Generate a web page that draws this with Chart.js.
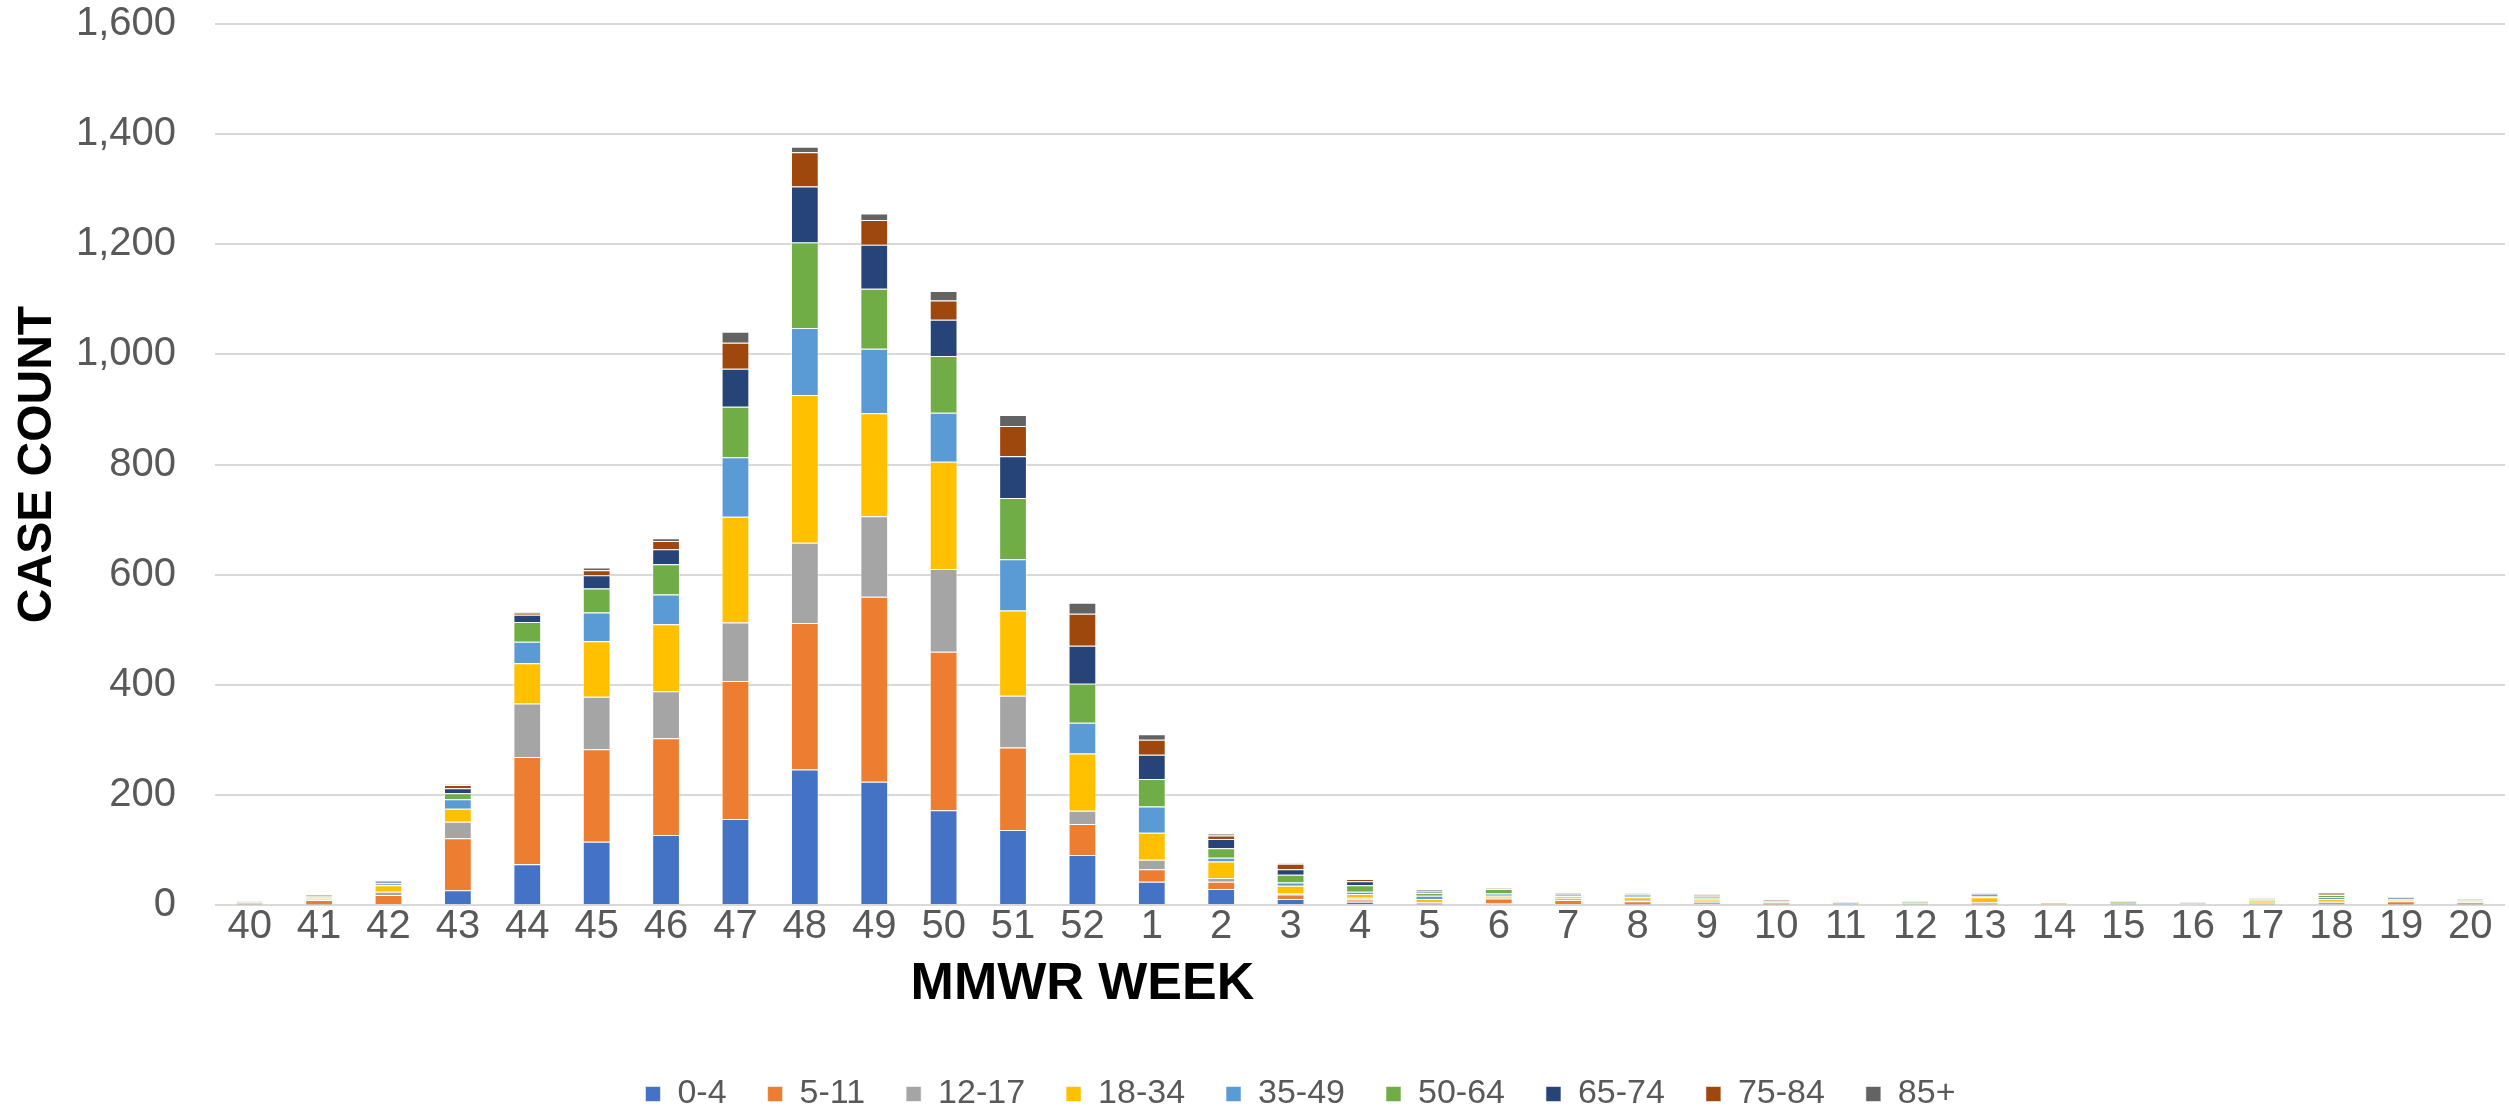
<!DOCTYPE html>
<html lang="en">
<head>
  <meta charset="UTF-8">
  <title>Case Count by MMWR Week</title>
  <script src="https://cdn.jsdelivr.net/npm/chart.js"></script>
  <style>
    html, body { margin: 0; padding: 0; background: #fff; }
    #wrap { width: 2509px; height: 1109px; position: relative; }
  </style>
</head>
<body>
  <div id="wrap"><canvas id="caseChart"></canvas></div>

  <script>
    // MMWR weeks (40-52, then 1-20)
    const weeks = ['40','41','42','43','44','45','46','47','48','49','50','51','52',
                   '1','2','3','4','5','6','7','8','9','10','11','12','13','14','15','16','17','18','19','20'];

    const ageGroups = ['0-4','5-11','12-17','18-34','35-49','50-64','65-74','75-84','85+'];
    const groupColors = ['#4472C4','#ED7D31','#A5A5A5','#FFC000','#5B9BD5','#70AD47','#264478','#9E480E','#636363'];

    // case counts per week, one array per age group
    const age0_4   = [1,1,2,27,74,115,127,156,246,224,172,136,91, 42,29,11,6,1,3,2,1,2,1,1,1,1,0,1,2,1,1,1,1];
    const age5_11  = [1,8,16,94,195,168,176,251,266,336,288,150,56, 23,13,8,4,3,9,7,6,2,3,0,1,3,1,1,0,1,1,6,4];
    const age12_17 = [1,1,6,30,97,95,85,106,146,146,150,94,24, 17,7,3,3,1,1,3,2,2,1,1,0,1,0,0,1,1,4,1,2];
    const age18_34 = [2,3,12,24,73,101,122,192,268,187,195,155,104, 49,30,13,7,6,4,4,5,4,1,2,1,9,1,0,1,3,5,2,1];
    const age35_49 = [1,1,3,17,39,52,54,108,122,117,89,93,56, 48,7,6,4,6,4,1,3,2,0,1,1,2,0,1,1,2,3,1,1];
    const age50_64 = [1,2,1,11,36,44,55,92,155,109,103,111,71, 50,17,14,12,5,8,2,2,3,1,0,2,1,1,3,1,2,4,0,1];
    const age65_74 = [0,1,2,9,13,24,27,69,102,80,66,76,69, 44,17,10,7,1,0,2,1,1,1,0,0,3,0,0,0,1,0,2,0];
    const age75_84 = [0,1,2,6,4,9,15,47,62,45,35,55,58, 27,6,10,4,2,1,2,0,2,2,0,0,1,0,0,0,1,2,0,0];
    const age85    = [0,0,0,1,1,5,5,20,10,12,17,20,20, 10,4,1,0,3,1,0,1,1,0,1,1,0,0,1,0,0,2,1,1];

    const seriesValues = [age0_4, age5_11, age12_17, age18_34, age35_49, age50_64, age65_74, age75_84, age85];

    const yTicks = [0, 200, 400, 600, 800, 1000, 1200, 1400, 1600];

    const FONT = "'Liberation Sans', Arial, sans-serif";
    Chart.defaults.font.family = FONT;

    // x axis title sits under week 52 in the original, so draw it there
    const xTitlePlugin = {
      id: 'xTitle',
      afterLayout(chart) {
        // legend in the original is a bit right of centre
        chart.legend.left += 48;
        chart.legend.right += 48;
      },
      afterDraw(chart) {
        const {ctx, scales: {x}} = chart;
        ctx.save();
        ctx.font = "bold 52px " + FONT;
        ctx.fillStyle = '#000';
        ctx.textAlign = 'center';
        ctx.textBaseline = 'middle';
        ctx.fillText('MMWR WEEK', x.getPixelForValue(weeks.indexOf('52')), 985);
        ctx.restore();
      }
    };

    new Chart(document.getElementById('caseChart'), {
      type: 'bar',
      data: {
        labels: weeks,
        datasets: ageGroups.map((g, i) => ({
          label: g,
          data: seriesValues[i],
          backgroundColor: groupColors[i],
          borderColor: 'rgba(255,255,255,0.55)',
          borderWidth: 1,
          barPercentage: 0.4,
          categoryPercentage: 1.0
        }))
      },
      options: {
        responsive: true,
        maintainAspectRatio: false,
        animation: false,
        layout: { padding: { top: 0, left: 0, right: 4, bottom: -12 } },
        plugins: {
          legend: {
            position: 'bottom',
            labels: {
              color: '#595959',
              font: { size: 34 },
              boxWidth: 15,
              boxHeight: 15,
              padding: 41
            }
          },
          tooltip: { enabled: false }
        },
        scales: {
          x: {
            stacked: true,
            grid: { display: false },
            border: { display: false },
            ticks: { color: '#595959', font: { size: 40 }, padding: -10, maxRotation: 0, autoSkip: false },
            afterFit: s => { s.height = 131; }
          },
          y: {
            stacked: true,
            min: 0,
            max: 1600,
            afterBuildTicks: s => { s.ticks = yTicks.map(v => ({ value: v })); },
            ticks: {
              color: '#595959',
              font: { size: 40 },
              padding: 0,
              callback: v => v.toLocaleString('en-US')
            },
            grid: { color: '#d9d9d9', lineWidth: 2, drawTicks: true, tickLength: 39, tickColor: 'rgba(0,0,0,0)' },
            border: { display: false },
            title: {
              display: true,
              text: 'CASE COUNT',
              color: '#000',
              font: { size: 48, weight: 'bold' },
              padding: { top: 9, bottom: 0 }
            },
            afterFit: s => { s.width = 215; }
          }
        }
      },
      plugins: [xTitlePlugin]
    });
  </script>
</body>
</html>
